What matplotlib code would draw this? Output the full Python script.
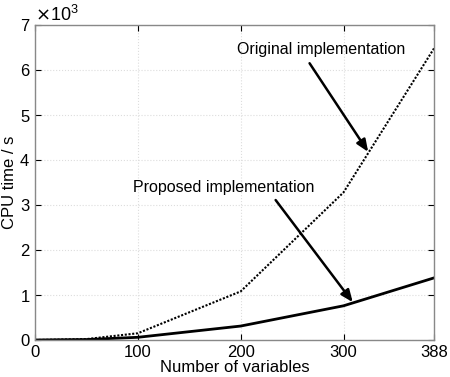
import matplotlib
matplotlib.use("Agg")
import matplotlib.pyplot as plt
from matplotlib.ticker import ScalarFormatter

plt.rcParams['font.family'] = ['Liberation Sans', 'DejaVu Sans']

variables = [0, 50, 100, 200, 300, 388]
original = [0, 20, 150, 1080, 3280, 6480]
proposed = [0, 10, 60, 310, 760, 1380]
xticks = [0, 100, 200, 300, 388]
yticks = [0, 1000, 2000, 3000, 4000, 5000, 6000, 7000]

fig = plt.figure(figsize=(4.5, 3.77), dpi=100)
ax = fig.add_axes([35/450, 37/377, 399/450, 315/377])

ax.plot(variables, original, color='black', linestyle=(0, (1, 0.8)), linewidth=1.5)
ax.plot(variables, proposed, color='black', linestyle='-', linewidth=2.0)

ax.set_xlim(0, 388)
ax.set_ylim(0, 7000)
ax.set_xticks(xticks)
ax.set_yticks(yticks)
fmt = ScalarFormatter(useMathText=True)
fmt.set_powerlimits((3, 3))
ax.yaxis.set_major_formatter(fmt)
ax.yaxis.get_offset_text().set_fontsize(13)

ax.grid(True, color='#dddddd', linestyle=':', linewidth=0.8)
ax.tick_params(direction='in', top=True, right=True, labelsize=12, length=4, colors='black')
for s in ax.spines.values():
    s.set_color('#888888')
    s.set_linewidth(1.0)

ax.set_xlabel('Number of variables', fontsize=12, labelpad=0)
ax.set_ylabel('CPU time / s', fontsize=12, labelpad=2)

arrow = dict(arrowstyle='-|>,head_length=0.6,head_width=0.25', color='black', lw=1.8,
             mutation_scale=12, shrinkA=0, shrinkB=0)
ax.text(278, 6460, 'Original implementation', fontsize=11.5, ha='center', va='center')
ax.annotate('', xy=(324, 4180), xytext=(267, 6150), arrowprops=arrow)
ax.text(183, 3390, 'Proposed implementation', fontsize=11.5, ha='center', va='center')
ax.annotate('', xy=(309, 840), xytext=(234, 3110), arrowprops=arrow)

fig.savefig('out.png', dpi=100)
